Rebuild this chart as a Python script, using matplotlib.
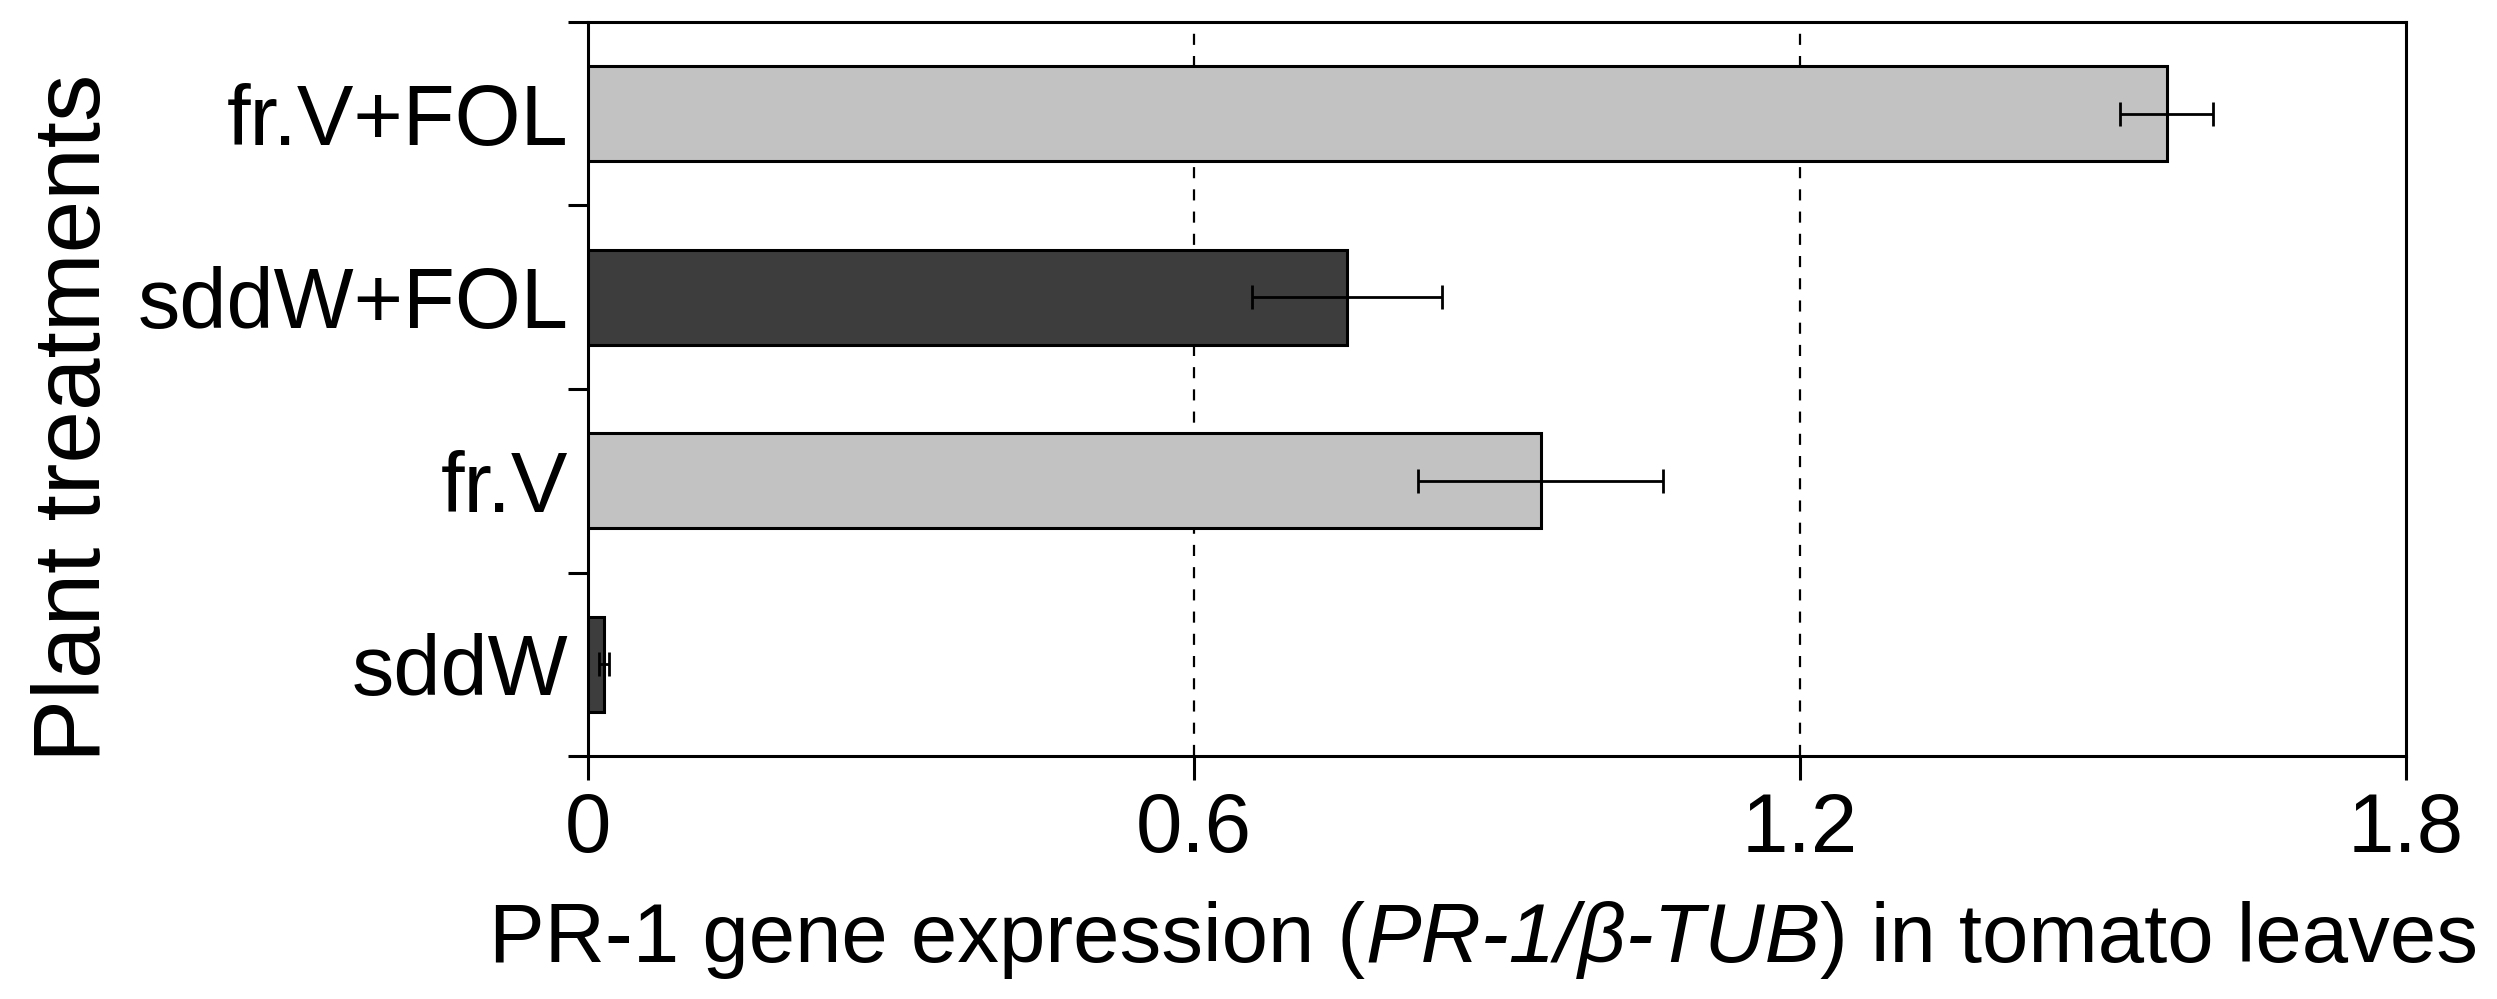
import numpy as np
import matplotlib
matplotlib.use("Agg")
import matplotlib.pyplot as plt
from matplotlib.offsetbox import TextArea, HPacker, AnchoredOffsetbox

# data, bottom to top
treatments = ["sddW", "fr.V", "sddW+FOL", "fr.V+FOL"]
expression = [0.016, 0.943, 0.751, 1.563]
errors = [0.005, 0.121, 0.094, 0.046]
colors = ["#3d3d3d", "#c2c2c2", "#3d3d3d", "#c2c2c2"]
xticks = [0, 0.6, 1.2, 1.8]
xtick_labels = ["0", "0.6", "1.2", "1.8"]
xlabel_parts = ["PR-1 gene expression (", "PR-1/β-TUB", ") in tomato leaves"]

plt.rcParams['font.family'] = ['Liberation Sans', 'DejaVu Sans']

fig = plt.figure(figsize=(24.97, 9.99), dpi=100)
ax = fig.add_axes([0.2355, 0.2432, 0.7281, 0.7348])

pos = np.arange(len(treatments))
ax.barh(pos, expression, height=0.52, color=colors, edgecolor="black",
        linewidth=2.2, zorder=3)
ax.errorbar(expression, pos, xerr=errors, fmt="none", ecolor="black",
            elinewidth=2.0, capsize=8.5, capthick=2.0, zorder=4)

ax.set_xlim(0, 1.8)
ax.set_ylim(-0.5, len(treatments) - 0.5)

ax.set_xticks(xticks)
ax.set_xticklabels(xtick_labels, fontsize=60)
ax.tick_params(axis="x", direction="out", length=17, width=2.2, pad=8)

ax.set_yticks(pos)
ax.set_yticklabels(treatments, fontsize=61)
ax.set_yticks(np.arange(len(treatments) + 1) - 0.5, minor=True)
ax.tick_params(axis="y", which="major", length=0, pad=14)
ax.tick_params(axis="y", which="minor", direction="out", length=14.5, width=2.2)

for v in xticks[1:-1]:
    ax.axvline(v, color="black", linestyle=(0, (5, 5)), linewidth=1.6, zorder=1)

for s in ax.spines.values():
    s.set_linewidth(2.2)

# x label with an italic middle part
styles = ["normal", "italic", "normal"]
parts = [TextArea(t, textprops=dict(fontsize=60, fontstyle=st))
         for t, st in zip(xlabel_parts, styles)]
packed = HPacker(children=parts, align="baseline", pad=0, sep=0)
xlab = AnchoredOffsetbox(loc="lower center", child=packed, pad=0, borderpad=0,
                         frameon=False, bbox_to_anchor=(0.4926, -0.3038),
                         bbox_transform=ax.transAxes)
ax.add_artist(xlab)

ax.set_ylabel("Plant treatments", fontsize=68)
ax.yaxis.label.set_va("baseline")
ax.yaxis.set_label_coords(-0.2684, 0.4605)

fig.savefig("out.png", dpi=100)
